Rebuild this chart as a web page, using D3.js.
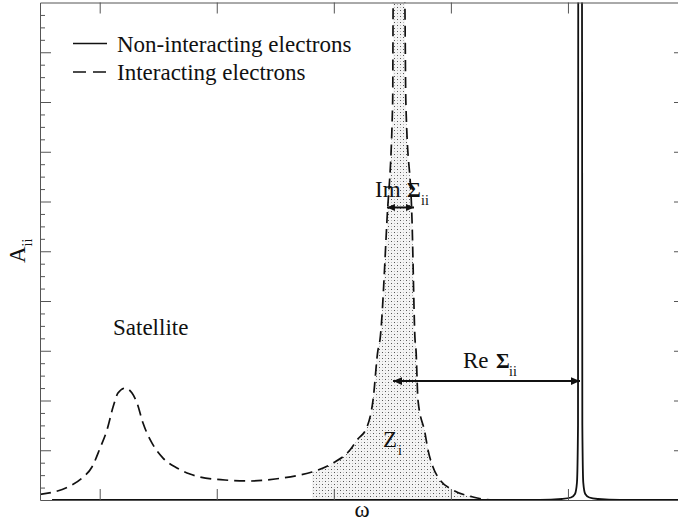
<!DOCTYPE html>
<html>
<head>
<meta charset="utf-8">
<script src="https://cdn.jsdelivr.net/npm/d3@7"></script>
</head>
<body style="margin:0">
<svg id="chart" width="678" height="525" style="display:block;background:#fff"></svg>
<script>
// Frequency axis ticks and spectral-weight ticks
const omegaTicks = [1, 2, 3, 4, 5];
const spectralMajorTicks = [1, 2, 3, 4, 5, 6, 7, 8, 9];

// Interacting electrons: satellite + broadened quasiparticle peak
const interactingOmega = [0.490, 0.618, 0.746, 0.849, 0.934, 1.003, 1.062, 1.114, 1.156, 1.216,
  1.276, 1.319, 1.370, 1.447, 1.541, 1.660, 1.771, 1.857, 2.070, 2.284, 2.498, 2.711, 2.814,
  2.993, 3.138, 3.198, 3.283, 3.335, 3.377, 3.394, 3.454, 3.503, 3.507, 3.557, 3.606, 3.615,
  3.668, 3.694, 3.702, 3.719, 3.779, 3.805, 3.847, 3.907, 4.018, 4.189, 4.360, 4.600];
const interactingA = [0.114, 0.167, 0.281, 0.442, 0.663, 1.044, 1.406, 1.867, 2.149, 2.249,
  2.149, 1.948, 1.546, 1.145, 0.843, 0.643, 0.522, 0.462, 0.402, 0.382, 0.422, 0.502, 0.562,
  0.743, 1.004, 1.205, 1.466, 2.008, 3.012, 3.213, 5.622, 8.032, 10.04, 10.60, 10.04, 8.032,
  5.622, 3.213, 3.012, 2.008, 1.345, 1.004, 0.663, 0.402, 0.201, 0.060, 0.000, 0.000];

// Non-interacting electrons: sharp peak at the bare level
const bareOmega = [0.593, 4.761, 4.949, 5.026, 5.060, 5.077, 5.086, 5.088, 5.104, 5.120,
  5.123, 5.131, 5.148, 5.183, 5.257, 5.445, 6.000];
const bareA = [0, 0, 0.02, 0.05, 0.12, 0.35, 1.5, 10.5, 12, 10.5, 1.5, 0.35, 0.12, 0.05,
  0.02, 0, 0];

// Start of the shaded quasiparticle weight Z_i
const quasiparticleStart = 2.814;

// Annotation arrows: [from ω, to ω, height A]
const imSigmaArrow = [3.454, 3.685, 5.88];
const reSigmaArrow = [3.506, 5.103, 2.39];

const legendLabels = ["Non-interacting electrons", "Interacting electrons"];

const textFont = "'Liberation Serif', monospace";
const svg = d3.select("#chart");
const edgeL = 40, edgeR = 685, edgeT = 2.5, edgeB = 500;

const x = d3.scaleLinear().domain([0.49, 6]).range([edgeL, edgeR]);
const y = d3.scaleLinear().domain([0, 10]).range([edgeB, edgeT]);

const defs = svg.append("defs");
defs.append("clipPath").attr("id", "plot-clip")
  .append("rect").attr("x", edgeL).attr("y", edgeT)
  .attr("width", edgeR - edgeL).attr("height", edgeB - edgeT + 3);

// stipple fill for the quasiparticle weight
const pat = defs.append("pattern").attr("id", "stipple")
  .attr("patternUnits", "userSpaceOnUse").attr("width", 6).attr("height", 6);
pat.append("rect").attr("width", 6).attr("height", 6).attr("fill", "#f4f4f4");
[[1, 1, "#555"], [4, 4, "#555"], [4, 1, "#bbb"], [1, 4, "#bbb"]].forEach(([px, py, c]) =>
  pat.append("rect").attr("x", px).attr("y", py).attr("width", 1).attr("height", 1).attr("fill", c));

// arrow heads
function arrowMarker(id, len, half) {
  defs.append("marker").attr("id", id)
    .attr("markerUnits", "userSpaceOnUse")
    .attr("viewBox", `0 0 ${len} ${half * 2}`)
    .attr("markerWidth", len).attr("markerHeight", half * 2)
    .attr("refX", len).attr("refY", half)
    .attr("orient", "auto-start-reverse")
    .append("path").attr("d", `M0,0L${len},${half}L0,${half * 2}Z`).attr("fill", "#111");
}
arrowMarker("head-small", 8, 3.5);
arrowMarker("head-large", 9, 3.8);

const interacting = interactingOmega.map((w, i) => ({ w, a: interactingA[i] }));
const bare = bareOmega.map((w, i) => ({ w, a: bareA[i] }));

const plot = svg.append("g").attr("clip-path", "url(#plot-clip)");

// shaded quasiparticle peak
plot.append("path")
  .datum(interacting.filter(d => d.w >= quasiparticleStart))
  .attr("fill", "url(#stipple)")
  .attr("d", d3.area().curve(d3.curveMonotoneX)
    .x(d => x(d.w)).y0(y(0)).y1(d => y(d.a)));

// axes
const axisColor = "#555";
function styleAxis(g, keepDomain) {
  g.selectAll("text").remove();
  if (!keepDomain) g.select(".domain").remove();
  g.selectAll("path, line").attr("stroke", axisColor).attr("stroke-width", 1);
}
const minorTicks = d3.range(0.25, 10, 0.25).filter(v => Math.abs(v - Math.round(v)) > 1e-6);

svg.append("g").attr("transform", `translate(${edgeL},0)`)
  .call(d3.axisRight(y).tickValues(spectralMajorTicks).tickSize(11).tickSizeOuter(0))
  .call(g => styleAxis(g, true));
svg.append("g").attr("transform", `translate(${edgeL},0)`)
  .call(d3.axisRight(y).tickValues(minorTicks).tickSize(5).tickSizeOuter(0))
  .call(g => styleAxis(g, false));
svg.append("g").attr("transform", `translate(${edgeR},0)`)
  .call(d3.axisLeft(y).tickValues(spectralMajorTicks).tickSize(11).tickSizeOuter(0))
  .call(g => styleAxis(g, true));
svg.append("g").attr("transform", `translate(0,${edgeB})`)
  .call(d3.axisTop(x).tickValues(omegaTicks).tickSize(11).tickSizeOuter(0))
  .call(g => styleAxis(g, true));
svg.append("g").attr("transform", `translate(0,${edgeT})`)
  .call(d3.axisBottom(x).tickValues(omegaTicks).tickSize(11).tickSizeOuter(0))
  .call(g => styleAxis(g, true));

// curves
const line = d3.line().curve(d3.curveMonotoneX).x(d => x(d.w)).y(d => y(d.a));
plot.append("path").datum(bare)
  .attr("fill", "none").attr("stroke", "#111").attr("stroke-width", 1.8)
  .attr("d", line);
plot.append("path").datum(interacting)
  .attr("fill", "none").attr("stroke", "#111").attr("stroke-width", 1.7)
  .attr("stroke-dasharray", "11,6")
  .attr("d", line);

// arrows
function arrow(spec, marker) {
  svg.append("line")
    .attr("x1", x(spec[0])).attr("x2", x(spec[1]))
    .attr("y1", y(spec[2])).attr("y2", y(spec[2]))
    .attr("stroke", "#111").attr("stroke-width", 2)
    .attr("marker-start", `url(#${marker})`).attr("marker-end", `url(#${marker})`);
}
arrow(imSigmaArrow, "head-small");
arrow(reSigmaArrow, "head-large");

// all text goes into one group carrying the serif face
const textLayer = svg.append("g").style("font-family", textFont).attr("fill", "#111");

function label(xp, yp, parts) {
  parts.forEach(p => {
    const t = textLayer.append("text").attr("x", xp + p.dx).attr("y", yp + (p.dy || 0))
      .attr("font-size", p.size).text(p.t);
    if (p.bold) t.attr("font-weight", "bold");
  });
}

// annotations
label(375, 197, [{ t: "Im", dx: 0, size: 23 }, { t: "Σ", dx: 32, size: 21, bold: true },
  { t: "ii", dx: 46, dy: 8, size: 14 }]);
label(463, 368, [{ t: "Re", dx: 0, size: 23 }, { t: "Σ", dx: 33, size: 21, bold: true },
  { t: "ii", dx: 46, dy: 8, size: 14 }]);
label(383, 447, [{ t: "Z", dx: 0, size: 23 }, { t: "i", dx: 15, dy: 8, size: 14 }]);
label(113, 335, [{ t: "Satellite", dx: 0, size: 23 }]);

// axis titles
textLayer.append("text").attr("x", 362).attr("y", 517).attr("text-anchor", "middle")
  .attr("font-size", 23).text("ω");
const ylab = textLayer.append("text").attr("transform", "translate(25,263) rotate(-90)")
  .attr("font-size", 23);
ylab.append("tspan").text("A");
ylab.append("tspan").attr("font-size", 14).attr("dy", 7).text("ii");

// legend
svg.append("line").attr("x1", 73).attr("x2", 107).attr("y1", 43.5).attr("y2", 43.5)
  .attr("stroke", "#111").attr("stroke-width", 1.5);
svg.append("line").attr("x1", 73).attr("x2", 107).attr("y1", 72).attr("y2", 72)
  .attr("stroke", "#111").attr("stroke-width", 1.5).attr("stroke-dasharray", "13,7");
legendLabels.forEach((t, i) => {
  textLayer.append("text").attr("x", 117).attr("y", 51.5 + i * 28.5)
    .attr("font-size", 23).text(t);
});
</script>
</body>
</html>
